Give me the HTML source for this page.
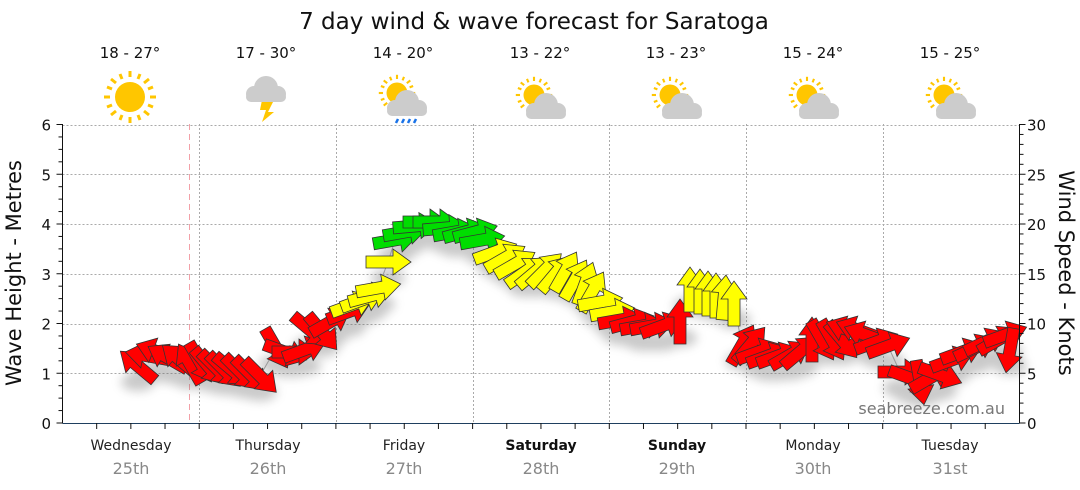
<!DOCTYPE html>
<html><head><meta charset="utf-8"><style>
body{margin:0;background:#fff;}
svg{display:block;font-family:"DejaVu Sans","Liberation Sans",sans-serif;}
</style></head><body>
<svg id="s" width="1080" height="490" viewBox="0 0 1080 490" xmlns="http://www.w3.org/2000/svg">
<defs>
<filter id="sh" x="-30%" y="-30%" width="160%" height="180%"><feGaussianBlur stdDeviation="5"/></filter>
<g id="sun"><circle r="15" fill="#ffc600"/><g stroke="#ffc600" stroke-width="3"><line x1="0" y1="-20" x2="0" y2="-26"/><line x1="0" y1="20" x2="0" y2="26"/><line x1="-20" y1="0" x2="-26" y2="0"/><line x1="20" y1="0" x2="26" y2="0"/><line x1="14" y1="14" x2="19" y2="18"/><line x1="-14" y1="14" x2="-19" y2="18"/><line x1="14" y1="-14" x2="19" y2="-18"/><line x1="-14" y1="-14" x2="-19" y2="-18"/><line x1="8" y1="-18" x2="10" y2="-23"/><line x1="-8" y1="-18" x2="-10" y2="-23"/><line x1="8" y1="18" x2="10" y2="23"/><line x1="-8" y1="18" x2="-10" y2="23"/><line x1="18" y1="8" x2="23" y2="10"/><line x1="-18" y1="8" x2="-23" y2="10"/><line x1="18" y1="-8" x2="23" y2="-10"/><line x1="-18" y1="-8" x2="-23" y2="-10"/></g></g>
<g id="cloud" fill="#cccccc"><circle cx="0" cy="0" r="12"/><circle cx="-12" cy="6" r="8"/><circle cx="12" cy="6" r="8"/><rect x="-20" y="4" width="40" height="10" rx="5"/></g>
<g id="ps"><g transform="scale(0.7)"><use href="#sun"/></g><g transform="translate(12,10)"><use href="#cloud"/></g></g>
</defs>
<text x="534" y="29" font-size="23" text-anchor="middle" fill="#111">7 day wind &amp; wave forecast for Saratoga</text>
<g font-size="15" text-anchor="middle" fill="#111">
<text x="130" y="58">18 - 27°</text><text x="266" y="58">17 - 30°</text><text x="403" y="58">14 - 20°</text><text x="540" y="58">13 - 22°</text><text x="676" y="58">13 - 23°</text><text x="813" y="58">15 - 24°</text><text x="950" y="58">15 - 25°</text>
</g>
<use href="#sun" x="130" y="97"/>
<g><polygon points="262,100 274,100 268,112 274,112 262,122 266,110 260,110" fill="#ffc600"/><use href="#cloud" x="266" y="88"/></g>
<g><g transform="translate(397,93) scale(0.7)"><use href="#sun"/></g><use href="#cloud" x="407" y="102"/><g stroke="#1a73e8" stroke-width="2.5"><line x1="398" y1="119" x2="396" y2="123"/><line x1="404" y1="119" x2="402" y2="123"/><line x1="410" y1="119" x2="408" y2="123"/><line x1="416" y1="119" x2="414" y2="123"/></g></g>
<use href="#ps" x="534" y="95"/><use href="#ps" x="670" y="95"/><use href="#ps" x="807" y="95"/><use href="#ps" x="944" y="95"/>
<g id="grid" stroke="#aaa" stroke-width="1" stroke-dasharray="2,2"></g>
<line x1="189.5" y1="124" x2="189.5" y2="423" stroke="#f3a0a8" stroke-dasharray="6,4"/>
<g id="arr"></g>
<g id="axes" stroke="#111" stroke-width="1" fill="none"></g>
<g id="lbl" font-size="15" fill="#111"></g>
<text x="0" y="0" font-size="21" text-anchor="middle" fill="#111" transform="translate(21,273) rotate(-90)">Wave Height - Metres</text>
<text x="0" y="0" font-size="21" text-anchor="middle" fill="#111" transform="translate(1059,273) rotate(90)">Wind Speed - Knots</text>
<text x="1005" y="414" font-size="16" text-anchor="end" fill="#777">seabreeze.com.au</text>
<g font-size="14" text-anchor="middle">
<text x="131" y="450" fill="#222">Wednesday</text><text x="268" y="450" fill="#222">Thursday</text><text x="404" y="450" fill="#222">Friday</text><text x="541" y="450" fill="#111" font-weight="bold">Saturday</text><text x="677" y="450" fill="#111" font-weight="bold">Sunday</text><text x="813" y="450" fill="#222">Monday</text><text x="950" y="450" fill="#222">Tuesday</text>
</g>
<g font-size="16" text-anchor="middle" fill="#888">
<text x="131" y="474">25th</text><text x="268" y="474">26th</text><text x="404" y="474">27th</text><text x="541" y="474">28th</text><text x="677" y="474">29th</text><text x="813" y="474">30th</text><text x="950" y="474">31st</text>
</g>
</svg>
<script>
var NS="http://www.w3.org/2000/svg";
function el(p,t,a){var e=document.createElementNS(NS,t);for(var k in a)e.setAttribute(k,a[k]);p.appendChild(e);return e;}
var g=document.getElementById("grid"),ax=document.getElementById("axes"),lb=document.getElementById("lbl");
var X0=62.5,X1=1019.5,Y0=423,Y6=124.5,py=(Y0-Y6)/6;
for(var i=1;i<=6;i++){var y=Math.round(Y0-i*py)+.5;el(g,"line",{x1:X0,x2:X1,y1:y,y2:y});}
for(var d=1;d<7;d++){var x=Math.round(62.5+d*136.7)+.5;el(g,"line",{x1:x,x2:x,y1:124,y2:423});}
el(ax,"line",{x1:X0,x2:X0,y1:124,y2:423});el(ax,"line",{x1:X1,x2:X1,y1:124,y2:423});
el(ax,"line",{x1:X0,x2:X1,y1:423.5,y2:423.5,stroke:"#1f3f5f"});
for(var i=0;i<=24;i++){var y=Y0-i*py/4;el(ax,"line",{x1:X0-(i%4==0?6:4),x2:X0,y1:y,y2:y});}
for(var i=0;i<=30;i++){var y=Y0-i*py/5;el(ax,"line",{x1:X1,x2:X1+(i%5==0?6:4),y1:y,y2:y});}
for(var i=0;i<=6;i++){var t=el(lb,"text",{x:51,y:Y0-i*py+6,"text-anchor":"end"});t.textContent=i;}
for(var i=0;i<=6;i++){var t=el(lb,"text",{x:1027,y:Y0-i*py+6});t.textContent=i*5;}
for(var i=1;i<28;i++){var x=62.5+i*136.7/4;el(ax,"line",{x1:x,x2:x,y1:423,y2:429});}
var C={r:"#ff0000",y:"#ffff00",g:"#00dd00"};
var A=[
[138,366,-140,"r"],[148,356,190,"r"],[158,352,200,"r"],[168,358,-150,"r"],[180,360,220,"r"],[190,364,240,"r"],
[200,362,60,"r"],[208,366,50,"r"],[216,368,45,"r"],[224,370,45,"r"],[232,370,40,"r"],[240,372,45,"r"],[250,374,45,"r"],[260,376,45,"r"],
[276,348,60,"r"],[285,352,20,"r"],[294,352,0,"r"],[304,350,-20,"r"],[310,330,40,"r"],[322,332,50,"r"],[330,322,-30,"r"],
[348,312,-20,"r"],[352,305,-20,"y"],[362,300,-20,"y"],[370,296,-15,"y"],[378,288,-10,"y"],[388,262,0,"y"],
[395,240,-10,"g"],[405,232,-10,"g"],[415,226,-5,"g"],[425,222,0,"g"],[435,222,0,"g"],[445,228,-5,"g"],[455,232,-10,"g"],[465,232,-15,"g"],[475,232,-15,"g"],[482,240,-10,"g"],
[495,252,-20,"y"],[505,258,-30,"y"],[515,264,-30,"y"],[525,272,-35,"y"],[535,272,-40,"y"],[545,270,-45,"y"],[555,274,-50,"y"],[565,272,-60,"y"],[575,280,-60,"y"],[585,284,-70,"y"],[592,292,-60,"y"],[600,302,-10,"y"],
[612,312,-10,"y"],[620,320,-10,"r"],[632,322,-15,"r"],[642,326,-10,"r"],[652,326,-10,"r"],[662,326,-20,"r"],[680,322,-90,"r"],
[690,290,-90,"y"],[700,292,-90,"y"],[708,294,-90,"y"],[716,296,-90,"y"],[724,298,-85,"y"],[734,304,-90,"y"],
[742,345,-60,"r"],[750,345,-50,"r"],[758,352,-20,"r"],[768,356,-20,"r"],[778,356,-20,"r"],[790,355,-30,"r"],[800,352,-40,"r"],[812,340,-90,"r"],[822,340,60,"r"],[832,340,60,"r"],[842,340,50,"r"],[848,330,200,"r"],[858,330,200,"r"],[866,335,200,"r"],[876,342,-20,"r"],[888,346,-20,"r"],
[900,372,0,"r"],[910,378,20,"r"],[920,382,80,"r"],[930,378,-30,"r"],[940,375,20,"r"],[952,360,-20,"r"],[962,352,-20,"r"],[975,348,-25,"r"],[985,342,-25,"r"],[998,340,-30,"r"],[1005,335,-20,"r"],[1010,350,100,"r"]
];
var G=document.getElementById("arr");
var pts="-22,-6 5,-6 5,-13 23,0 5,13 5,6 -22,6";
var shd=el(G,"g",{filter:"url(#sh)",opacity:"0.35"});
A.forEach(function(a){el(shd,"ellipse",{cx:a[0],cy:a[1]+16,rx:17,ry:9,fill:"#666"});});
var pl=A.map(function(a){return a[0]+","+a[1];}).join(" ");
el(G,"polyline",{points:pl,fill:"none",stroke:"#999","stroke-width":1});
A.forEach(function(a){el(G,"polygon",{points:pts,fill:C[a[3]],stroke:"#333","stroke-width":0.8,transform:"translate("+a[0]+","+a[1]+") rotate("+a[2]+")"});});
</script>
</body></html>
